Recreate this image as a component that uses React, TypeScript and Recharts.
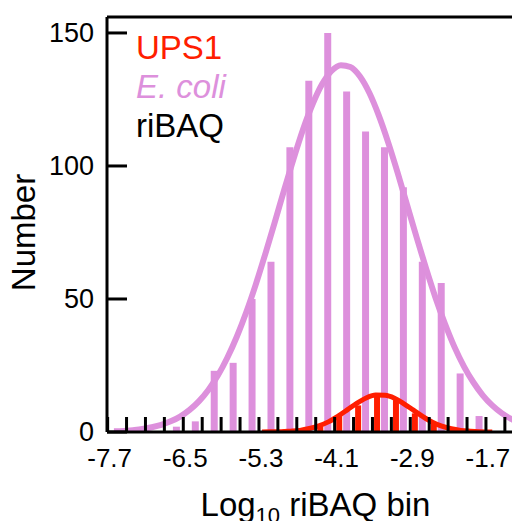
import React from 'react';
import { ComposedChart, Bar, Line, XAxis, YAxis, ReferenceLine, Legend } from 'recharts';

const FONT = '"Liberation Sans", Arial, Helvetica, sans-serif';
const PINK = '#DD90DC';
const RED = '#FF1E00';

// histogram bins (centre of each 0.3-wide bin)
const binCenters = [-7.55, -7.25, -6.95, -6.65, -6.35, -6.05, -5.75, -5.45, -5.15, -4.85, -4.55, -4.25, -3.95, -3.65, -3.35, -3.05, -2.75, -2.45, -2.15, -1.85, -1.55, -1.25];
const ecoliCounts = [0, 0, 0, 2, 4, 23, 26, 50, 64, 107, 132, 150, 128, 113, 107, 92, 64, 56, 22, 6, 0, 0];
const upsCounts = [0, 0, 0, 0, 0, 0, 0, 0, 0, 0, 1, 2, 6, 10, 14, 12, 7, 3, 1, 0, 0, 0];

// fitted curves
const ecoliCurveX = [-7.6, -7.45, -7.3, -7.15, -7.0, -6.85, -6.7, -6.55, -6.4, -6.25, -6.1, -5.95, -5.8, -5.65, -5.5, -5.35, -5.2, -5.05, -4.9, -4.75, -4.6, -4.45, -4.3, -4.15, -4.0, -3.85, -3.7, -3.55, -3.4, -3.25, -3.1, -2.95, -2.8, -2.65, -2.5, -2.35, -2.2, -2.05, -1.9, -1.75, -1.6, -1.45, -1.3, -1.15];
const ecoliCurveY = [0.3, 0.4, 0.7, 1.1, 1.8, 2.7, 4.0, 5.8, 8.3, 11.6, 15.9, 21.3, 28.0, 35.9, 45.1, 55.5, 66.9, 78.8, 91.0, 102.8, 113.8, 123.2, 130.7, 135.7, 137.9, 137.2, 133.7, 127.5, 119.0, 108.8, 97.4, 85.3, 73.2, 61.5, 50.5, 40.7, 32.0, 24.7, 18.7, 13.8, 10.0, 7.1, 4.9, 3.3];
const upsCurveX = [-5.25, -5.1, -4.95, -4.8, -4.65, -4.5, -4.35, -4.2, -4.05, -3.9, -3.75, -3.6, -3.45, -3.3, -3.15, -3.0, -2.85, -2.7, -2.55, -2.4, -2.25, -2.1, -1.95, -1.8, -1.65, -1.6];
const upsCurveY = [0.0, 0.1, 0.1, 0.3, 0.6, 1.3, 2.3, 3.8, 5.9, 8.3, 10.8, 12.8, 13.9, 13.8, 12.7, 10.6, 8.2, 5.8, 3.7, 2.2, 1.2, 0.6, 0.3, 0.1, 0.0, 0.0];

const xTickValues = [-7.7, -7.4, -7.1, -6.8, -6.5, -6.2, -5.9, -5.6, -5.3, -5.0, -4.7, -4.4, -4.1, -3.8, -3.5, -3.2, -2.9, -2.6, -2.3, -2.0, -1.7, -1.4];
const xTickLabels = ['-7.7', '-6.5', '-5.3', '-4.1', '-2.9', '-1.7'];
const yTickValues = [0, 50, 100, 150];

const legendItems = [
  { text: 'UPS1', color: RED, italic: false },
  { text: 'E. coli', color: PINK, italic: true },
  { text: 'riBAQ', color: '#000000', italic: false },
];

const X_DOMAIN: [number, number] = [-7.71, -1.16];
const Y_DOMAIN: [number, number] = [0, 156];
const PINK_SHIFT = 0.04;
const RED_SHIFT = -0.07;

const barData = binCenters.map((b, i) => ({ bin: b, ecoli: ecoliCounts[i], ups: upsCounts[i] }));
const ecoliCurve = ecoliCurveX.map((x, i) => ({ x, y: ecoliCurveY[i] }));
const upsCurve = upsCurveX.map((x, i) => ({ x, y: upsCurveY[i] }));

const XTick = (props: any) => {
  const { x, y, payload } = props;
  const label = Number(payload.value).toFixed(1);
  return (
    <g>
      <line x1={x} x2={x} y1={y} y2={y - 15} stroke="#000" strokeWidth={3} />
      {xTickLabels.includes(label) && (
        <text x={x + 2} y={y + 35} textAnchor="middle" fontSize={26} fontFamily={FONT} fill="#000">
          {label}
        </text>
      )}
    </g>
  );
};

const YTick = (props: any) => {
  const { x, y, payload } = props;
  return (
    <g>
      <line x1={x} x2={x + 20} y1={y} y2={y} stroke="#000" strokeWidth={3} />
      <text x={x - 13} y={y} dy={9} textAnchor="end" fontSize={27} fontFamily={FONT} fill="#000">
        {payload.value}
      </text>
    </g>
  );
};

const XTitle = (props: any) => {
  const vb = props.viewBox;
  return (
    <text x={vb.x + vb.width / 2 + 2} y={vb.y + 84} textAnchor="middle" fontSize={33} fontFamily={FONT} fill="#000">
      Log<tspan fontSize={22} dy={7}>10</tspan><tspan dy={-7}> riBAQ bin</tspan>
    </text>
  );
};

const YTitle = (props: any) => {
  const vb = props.viewBox;
  const cx = 35;
  const cy = vb.y + vb.height / 2 + 8;
  return (
    <text x={cx} y={cy} transform={`rotate(-90, ${cx}, ${cy})`} textAnchor="middle" fontSize={33} fontFamily={FONT} fill="#000">
      Number
    </text>
  );
};

const LegendContent = () => (
  <div style={{ fontFamily: FONT, fontSize: 33, lineHeight: '39px', whiteSpace: 'nowrap' }}>
    {legendItems.map((it) => (
      <div key={it.text} style={{ color: it.color, fontStyle: it.italic ? 'italic' : 'normal' }}>
        {it.text}
      </div>
    ))}
  </div>
);

export default function App() {
  return (
    <div style={{ margin: -8, background: '#fff' }}>
      <ComposedChart width={520} height={529} data={barData} margin={{ top: 17, right: 0, bottom: 0, left: 0 }}>
        <XAxis xAxisId="red" orientation="top" type="number" dataKey={(d: any) => d.bin + RED_SHIFT} domain={X_DOMAIN} allowDataOverflow hide />
        <XAxis xAxisId="curve" orientation="top" type="number" dataKey="x" domain={X_DOMAIN} allowDataOverflow hide />
        <YAxis
          type="number"
          domain={Y_DOMAIN}
          ticks={yTickValues}
          interval={0}
          width={107}
          tickSize={0}
          tickMargin={0}
          axisLine={{ stroke: '#000', strokeWidth: 3 }}
          tickLine={false}
          tick={YTick}
          label={YTitle}
          allowDataOverflow
        />
        <Bar xAxisId="main" dataKey="ecoli" fill={PINK} barSize={7} isAnimationActive={false} />
        <Bar xAxisId="red" dataKey="ups" fill={RED} barSize={6} isAnimationActive={false} />
        <Line xAxisId="curve" data={ecoliCurve} dataKey="y" type="monotone" stroke={PINK} strokeWidth={6} dot={false} activeDot={false} isAnimationActive={false} />
        <Line xAxisId="curve" data={upsCurve} dataKey="y" type="monotone" stroke={RED} strokeWidth={5} dot={false} activeDot={false} isAnimationActive={false} />
        <ReferenceLine xAxisId="main" y={156} stroke="#000" strokeWidth={3} />
        <XAxis
          xAxisId="main"
          type="number"
          dataKey={(d: any) => d.bin + PINK_SHIFT}
          domain={X_DOMAIN}
          ticks={xTickValues}
          interval={0}
          height={97}
          tickSize={0}
          tickMargin={0}
          axisLine={{ stroke: '#000', strokeWidth: 3 }}
          tickLine={false}
          tick={XTick}
          label={XTitle}
          allowDataOverflow
        />
        <Legend
          layout="vertical"
          align="center"
          verticalAlign="middle"
          wrapperStyle={{ left: 136, top: 28, width: 'auto', height: 'auto' }}
          content={LegendContent}
        />
      </ComposedChart>
    </div>
  );
}
